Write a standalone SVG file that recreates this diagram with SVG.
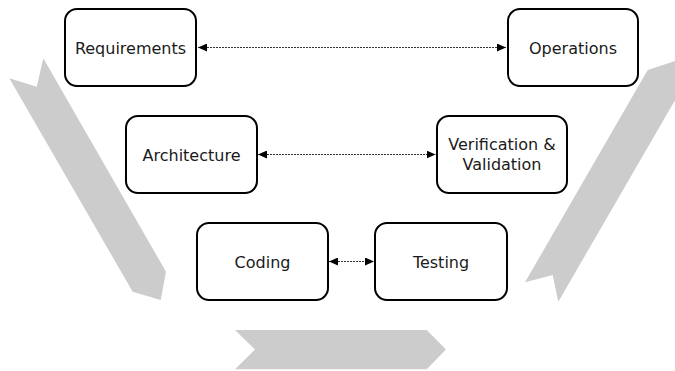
<svg xmlns="http://www.w3.org/2000/svg" width="675" height="371" viewBox="0 0 675 371">
  <style>
    .band { fill: #cccccc; stroke: none; }
    .box { fill: #ffffff; stroke: #000000; stroke-width: 2; }
    .lbl { font-family: "DejaVu Sans", sans-serif; font-size: 16px; fill: #1a1a1a; text-anchor: middle; }
    .conn { fill: none; stroke: #333333; stroke-width: 1; stroke-dasharray: 2 1; }
  </style>
  <defs>
    <marker id="ah" viewBox="0 0 9 8" refX="9" refY="4" markerWidth="9" markerHeight="8" markerUnits="userSpaceOnUse" orient="auto-start-reverse">
      <path d="M0,0 L9,4 L0,8 Z" fill="#000000"/>
    </marker>
  </defs>
  <g id="bands">
    <polygon class="band" points="9.3,78.3 36.7,86.7 43.3,58.3 166,271.7 160.7,300 132.7,291.7"/>
    <polygon class="band" points="525,282.3 552.7,275 558.3,301.7 681,90 678,60 647.7,70"/>
    <polygon class="band" points="235,330 426.7,330 446,349.5 426.7,369.3 235,369.3 255,349.5"/>
  </g>
  <g id="connectors">
    <line class="conn" x1="198" y1="47.5" x2="506" y2="47.5" marker-start="url(#ah)" marker-end="url(#ah)"/>
    <line class="conn" x1="258" y1="154.5" x2="435.5" y2="154.5" marker-start="url(#ah)" marker-end="url(#ah)"/>
    <line class="conn" x1="329" y1="261.5" x2="374" y2="261.5" marker-start="url(#ah)" marker-end="url(#ah)"/>
  </g>
  <g id="requirements">
    <rect class="box" x="65" y="9" width="131" height="77" rx="12"/>
    <text class="lbl" x="130.5" y="53.5">Requirements</text>
  </g>
  <g id="operations">
    <rect class="box" x="508" y="9" width="130" height="77" rx="12"/>
    <text class="lbl" x="573" y="53.5">Operations</text>
  </g>
  <g id="architecture">
    <rect class="box" x="126" y="116" width="131" height="77" rx="12"/>
    <text class="lbl" x="191.5" y="160.5">Architecture</text>
  </g>
  <g id="verification">
    <rect class="box" x="437" y="116" width="130" height="77" rx="12"/>
    <text class="lbl" x="502" y="150">Verification &amp;</text>
    <text class="lbl" x="502" y="170">Validation</text>
  </g>
  <g id="coding">
    <rect class="box" x="197" y="223" width="131" height="77" rx="12"/>
    <text class="lbl" x="262.5" y="268">Coding</text>
  </g>
  <g id="testing">
    <rect class="box" x="375" y="223" width="132" height="77" rx="12"/>
    <text class="lbl" x="441" y="268">Testing</text>
  </g>
</svg>
